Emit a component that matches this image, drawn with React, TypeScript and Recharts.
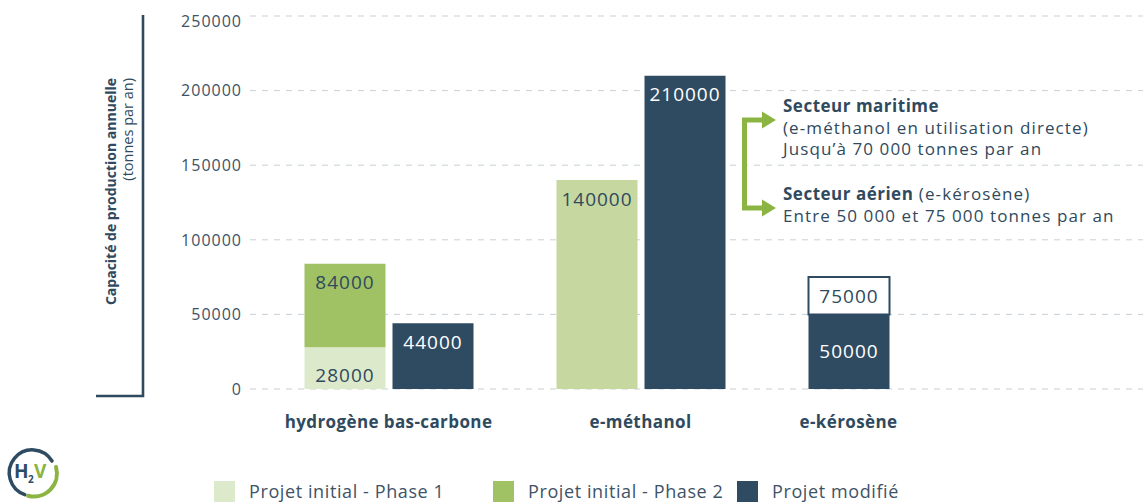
import React from "react";
import { BarChart, Bar, XAxis, YAxis, CartesianGrid, LabelList, Cell } from "recharts";

// catégories et valeurs (tonnes par an)
const categories = ["hydrogène bas-carbone", "e-méthanol", "e-kérosène"];
const phase1 = [28000, 140000, null];
const phase2 = [84000, null, null]; // capacité cumulée après la phase 2
const modifie = [44000, 210000, null];
const keroseneMin = [null, null, 50000];
const keroseneMax = [null, null, 75000];
const yTicks = [0, 50000, 100000, 150000, 200000, 250000];

const legendItems = [
  { label: "Projet initial - Phase 1", color: "#dde9cb" },
  { label: "Projet initial - Phase 2", color: "#a0c164" },
  { label: "Projet modifié", color: "#2f4b62" },
];
const legendWidths = [279, 244, 200];

const FONT = '"Open Sans", sans-serif';
const DARK = "#2f4b62";
const TEXT = "#2f4a5e";
const GREEN_ARROW = "#8cb443";
const BAR_SIZE = 81;
const BAR_GAP = 7;
const phase1Colors = ["#dde9cb", "#c6d7a0", "#dde9cb"];

const rows = categories.map((name, i) => ({
  name,
  phase1: phase1[i],
  phase2: phase2[i],
  phase2Seg: phase2[i] != null && phase1[i] != null ? phase2[i]! - phase1[i]! : null,
  modifie: modifie[i],
  keroMin: keroseneMin[i],
  keroMax: keroseneMax[i],
  keroSeg:
    keroseneMax[i] != null && keroseneMin[i] != null ? keroseneMax[i]! - keroseneMin[i]! : null,
}));

const LABEL_SIZE = 19;

function makeLabel(where: "top" | "bottom" | "center" | "auto", color: string) {
  return (props: any) => {
    const { x, y, width, height, value, index } = props;
    if (value == null || !height) return null;
    let pos = where;
    if (pos === "auto") pos = rows[index]?.phase2Seg != null ? "bottom" : "top";
    const cap = LABEL_SIZE * 0.357;
    let by = y + height / 2 + cap;
    if (pos === "top") by = y + 12 + cap * 2;
    if (pos === "bottom") by = y + height - 7.5;
    return (
      <text
        x={x + width / 2}
        y={by}
        textAnchor="middle"
        fill={color}
        fontSize={LABEL_SIZE}
        fontFamily={FONT}
        letterSpacing={1}
      >
        {value}
      </text>
    );
  };
}

const XTick = (props: any) => {
  const { x, y, payload } = props;
  const row = rows[payload.index];
  // une seule barre dans la catégorie : centrer l'étiquette sous cette barre
  const shift = row && row.modifie == null ? -(BAR_SIZE + BAR_GAP) / 2 : 0;
  return (
    <text
      x={x + shift}
      y={y + 25}
      textAnchor="middle"
      fill={TEXT}
      fontSize={17}
      fontWeight={700}
      fontFamily={FONT}
      letterSpacing={0.4}
    >
      {payload.value}
    </text>
  );
};

const YTick = (props: any) => {
  const { x, y, payload } = props;
  const extra = payload.value === yTicks[yTicks.length - 1] ? 5 : 0;
  return (
    <text
      x={x}
      y={y + 5.7 + extra}
      textAnchor="end"
      fill="#3e5366"
      fontSize={16}
      fontFamily={FONT}
      letterSpacing={1}
    >
      {payload.value}
    </text>
  );
};

export default function App() {
  const annot = { fontFamily: FONT, fontSize: 17, letterSpacing: 1.1, fill: TEXT };
  return (
    <div
      style={{
        position: "absolute",
        left: 0,
        top: 0,
        width: 1143,
        height: 502,
        background: "#fff",
        fontFamily: FONT,
        overflow: "hidden",
      }}
    >
      <BarChart
        width={1143}
        height={502}
        data={rows}
        margin={{ top: 16, right: 0, bottom: 0, left: 0 }}
        barSize={BAR_SIZE}
        barGap={BAR_GAP}
      >
        <CartesianGrid vertical={false} stroke="#c9d0d6" strokeDasharray="6 6" />
        <XAxis
          dataKey="name"
          axisLine={false}
          tickLine={false}
          interval={0}
          height={113}
          padding={{ left: 12.5, right: 124.5 }}
          tickMargin={8}
          tick={<XTick />}
        />
        <YAxis
          width={250}
          domain={[0, 250000]}
          ticks={yTicks}
          axisLine={false}
          tickLine={false}
          tick={<YTick />}
        />
        <Bar dataKey="phase1" stackId="init" isAnimationActive={false}>
          {rows.map((r, i) => (
            <Cell key={r.name} fill={phase1Colors[i]} />
          ))}
          <LabelList dataKey="phase1" content={makeLabel("auto", TEXT)} />
        </Bar>
        <Bar dataKey="phase2Seg" stackId="init" fill="#a0c164" isAnimationActive={false}>
          <LabelList dataKey="phase2" content={makeLabel("top", TEXT)} />
        </Bar>
        <Bar dataKey="modifie" stackId="mod" fill={DARK} isAnimationActive={false}>
          <LabelList dataKey="modifie" content={makeLabel("top", "#ffffff")} />
        </Bar>
        <Bar dataKey="keroMin" stackId="init" fill={DARK} isAnimationActive={false}>
          <LabelList dataKey="keroMin" content={makeLabel("center", "#ffffff")} />
        </Bar>
        <Bar
          dataKey="keroSeg"
          stackId="init"
          fill="#ffffff"
          stroke={DARK}
          strokeWidth={2}
          isAnimationActive={false}
        >
          <LabelList dataKey="keroMax" content={makeLabel("center", TEXT)} />
        </Bar>
      </BarChart>

      <svg
        width={1143}
        height={502}
        style={{ position: "absolute", left: 0, top: 0, pointerEvents: "none" }}
      >
        {/* axe vertical décoratif */}
        <path d="M143 15 V396 H96" fill="none" stroke={TEXT} strokeWidth={2.6} />
        <text
          transform="translate(115.5,78) rotate(-90)"
          textAnchor="end"
          fontFamily={FONT}
          fontWeight={700}
          fontSize={14}
          fill={TEXT}
        >
          Capacité de production annuelle
        </text>
        <text
          transform="translate(133,78) rotate(-90)"
          textAnchor="end"
          fontFamily={FONT}
          fontSize={14.5}
          fill={TEXT}
        >
          (tonnes par an)
        </text>

        {/* flèches vers les secteurs */}
        <path
          d="M764 120 H744.5 V208 H764"
          fill="none"
          stroke={GREEN_ARROW}
          strokeWidth={5}
        />
        <polygon points="762,111.5 776,120 762,128.5" fill={GREEN_ARROW} />
        <polygon points="762,199.5 776,208 762,216.5" fill={GREEN_ARROW} />

        <text x={783} y={112} {...annot} fontWeight={700} letterSpacing={0.5}>
          Secteur maritime
        </text>
        <text x={783} y={134} {...annot}>
          (e-méthanol en utilisation directe)
        </text>
        <text x={783} y={155} {...annot}>
          Jusqu’à 70 000 tonnes par an
        </text>
        <text x={783} y={200} {...annot}>
          <tspan fontWeight={700} letterSpacing={0.5}>Secteur aérien</tspan> (e-kérosène)
        </text>
        <text x={783} y={222} {...annot}>
          Entre 50 000 et 75 000 tonnes par an
        </text>

        {/* logo H2V */}
        <g>
          <path
            d="M24.8 494.6 A23 23 0 1 1 52 461"
            fill="none"
            stroke={DARK}
            strokeWidth={3.5}
            strokeLinecap="round"
          />
          <path
            d="M56 467 A23 23 0 0 1 28 495.7"
            fill="none"
            stroke={GREEN_ARROW}
            strokeWidth={4}
            strokeLinecap="round"
          />
          <text x={14} y={478} fontFamily={FONT} fontWeight={700} fontSize={19} fill={DARK}>
            H
          </text>
          <text x={28} y={483} fontFamily={FONT} fontWeight={700} fontSize={10} fill={DARK}>
            2
          </text>
          <text x={34} y={478} fontFamily={FONT} fontWeight={700} fontSize={19} fill={GREEN_ARROW}>
            V
          </text>
        </g>
      </svg>

      <div
        style={{
          position: "absolute",
          left: 214,
          top: 481,
          display: "flex",
          alignItems: "center",
          fontSize: 18,
          letterSpacing: 0.6,
          color: "#3e5366",
          whiteSpace: "nowrap",
        }}
      >
        {legendItems.map((it, i) => (
          <div
            key={it.label}
            style={{ display: "flex", alignItems: "center", width: legendWidths[i] }}
          >
            <span
              style={{ width: 21, height: 21, background: it.color, marginRight: 14, display: "inline-block" }}
            />
            <span style={{ lineHeight: "21px" }}>{it.label}</span>
          </div>
        ))}
      </div>
    </div>
  );
}
